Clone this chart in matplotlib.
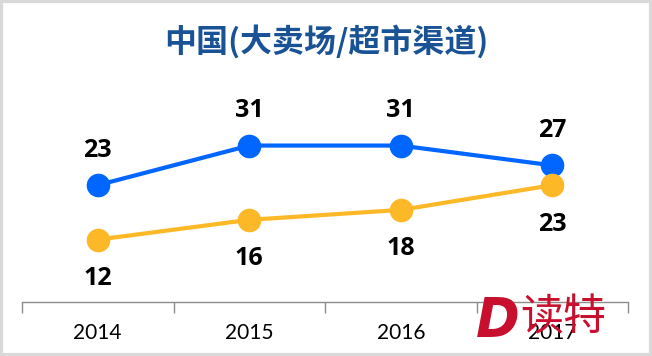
import matplotlib
matplotlib.use("Agg")
import matplotlib.pyplot as plt
from matplotlib.patches import Rectangle

# data
years = ["2014", "2015", "2016", "2017"]
blue_vals = [23, 31, 31, 27]
orange_vals = [12, 16, 18, 23]
title = "中国(大卖场/超市渠道)"

BLUE = "#0066FF"
ORANGE = "#FDB827"
GRAY = "#8c8c8c"

plt.rcParams["font.family"] = ["Lato", "Noto Sans CJK SC", "DejaVu Sans"]

fig = plt.figure(figsize=(6.52, 3.56), dpi=100)
ax = fig.add_axes([22 / 652, 54 / 356, 606 / 652, 201 / 356])

x = list(range(len(years)))
ax.plot(x, blue_vals, color=BLUE, lw=3, marker="o", ms=16, zorder=3)
ax.plot(x, orange_vals, color=ORANGE, lw=3, marker="o", ms=16, zorder=3)

for i, (b, o) in enumerate(zip(blue_vals, orange_vals)):
    ax.annotate(str(b), (i, b), xytext=(0, 35), textcoords="offset pixels",
                ha="center", va="center", fontsize=18, fontweight="bold",
                color="black", family=["Open Sans"])
    ax.annotate(str(o), (i, o), xytext=(0, -39), textcoords="offset pixels",
                ha="center", va="center", fontsize=18, fontweight="bold",
                color="black", family=["Open Sans"])

ax.set_xlim(-0.5, len(years) - 0.5)
ax.set_ylim(-0.6, 40)
ax.set_yticks([])
ax.set_xticks([i - 0.5 for i in range(len(years) + 1)])
ax.set_xticklabels([])
ax.set_xticks(x, minor=True)
ax.set_xticklabels(years, minor=True, fontsize=15)
ax.tick_params(axis="x", which="major", length=8, width=1, color=GRAY)
ax.tick_params(axis="x", which="minor", length=0, pad=15)
for s in ["top", "left", "right"]:
    ax.spines[s].set_visible(False)
ax.spines["bottom"].set_color(GRAY)
ax.spines["bottom"].set_linewidth(1)
ax.patch.set_alpha(0)

fig.text(0.5, 1 - 42 / 356, title, ha="center", va="center", fontsize=23,
         color="#1a5296", fontweight="bold",
         family=["Noto Sans CJK SC", "DejaVu Sans"])

# watermark
fig.text(498 / 652, 1 - 321 / 356, "D", ha="center", va="center", fontsize=38,
         fontweight="bold", fontstyle="italic", color="#c8102e",
         family=["DejaVu Sans"])
fig.text(563 / 652, 1 - 318 / 356, "读特", ha="center", va="center",
         fontsize=31, color="#c8102e", family=["Noto Sans CJK SC"])

# frame
fig.patches.append(Rectangle((0.002, 0.003), 0.996, 0.994, transform=fig.transFigure,
                             fill=False, edgecolor="#d9d9d9", lw=3))

fig.savefig("out.png", dpi=100)
